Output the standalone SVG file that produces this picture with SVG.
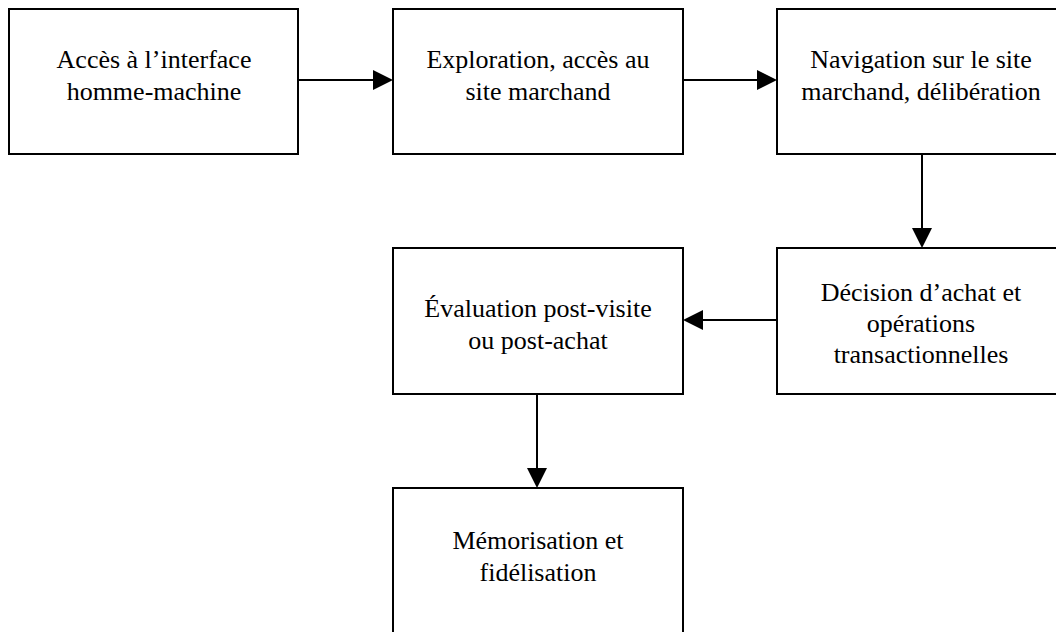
<svg xmlns="http://www.w3.org/2000/svg" width="1056" height="632" viewBox="0 0 1056 632">
<style>
.box{fill:#fff;stroke:#000;stroke-width:2}
.lbl{font-family:"Liberation Serif","Times New Roman",serif;font-size:26px;fill:#000;text-anchor:middle}
.conn{stroke:#000;stroke-width:2;fill:none;marker-end:url(#ah)}
</style>
<defs>
<marker id="ah" markerUnits="userSpaceOnUse" markerWidth="20" markerHeight="20" viewBox="0 0 20 20" refX="0" refY="10" orient="auto">
<path d="M0,0 L20,10 L0,20 Z" fill="#000"/>
</marker>
</defs>
<rect width="1056" height="632" fill="#fff"/>
<g id="n1">
<rect class="box" x="9" y="9" width="289" height="145"/>
<text class="lbl" x="154" y="68">Accès à l’interface</text>
<text class="lbl" x="154" y="100">homme-machine</text>
</g>
<g id="n2">
<rect class="box" x="393" y="9" width="290" height="145"/>
<text class="lbl" x="538" y="68">Exploration, accès au</text>
<text class="lbl" x="538" y="100">site marchand</text>
</g>
<g id="n3">
<rect class="box" x="777" y="9" width="289" height="145"/>
<text class="lbl" x="921" y="68">Navigation sur le site</text>
<text class="lbl" x="921" y="100">marchand, délibération</text>
</g>
<g id="n4">
<rect class="box" x="777" y="248" width="289" height="146"/>
<text class="lbl" x="921" y="301">Décision d’achat et</text>
<text class="lbl" x="921" y="332">opérations</text>
<text class="lbl" x="921" y="363">transactionnelles</text>
</g>
<g id="n5">
<rect class="box" x="393" y="248" width="290" height="146"/>
<text class="lbl" x="538" y="317">Évaluation post-visite</text>
<text class="lbl" x="538" y="349">ou post-achat</text>
</g>
<g id="n6">
<rect class="box" x="393" y="488" width="290" height="150"/>
<text class="lbl" x="538" y="549">Mémorisation et</text>
<text class="lbl" x="538" y="581">fidélisation</text>
</g>
<g id="connectors">
<line class="conn" x1="298" y1="80" x2="373" y2="80"/>
<line class="conn" x1="683" y1="80" x2="757" y2="80"/>
<line class="conn" x1="922" y1="154" x2="922" y2="228"/>
<line class="conn" x1="777" y1="320" x2="703" y2="320"/>
<line class="conn" x1="537" y1="394" x2="537" y2="468"/>
</g>
</svg>
